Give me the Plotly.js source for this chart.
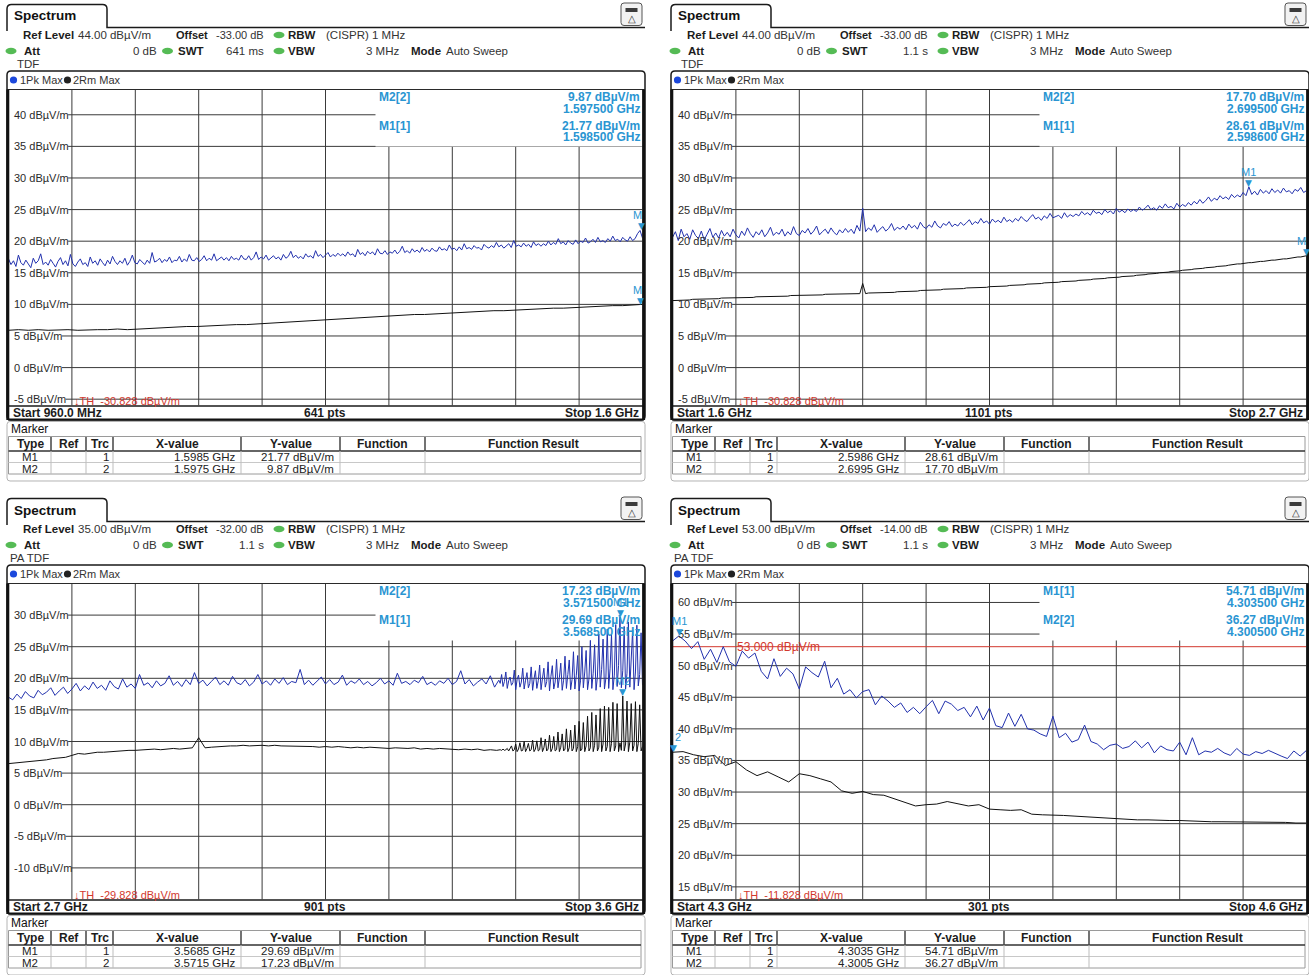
<!DOCTYPE html>
<html><head><meta charset="utf-8">
<script src="https://cdn.plot.ly/plotly-3.0.1.min.js"></script>
<style>html,body{margin:0;padding:0;background:#fff;}#chart{width:1309px;height:975px;}</style>
</head><body><div id="chart"></div>
<script>
// ---------------- DATA (GHz / dBµV/m) ----------------
const ticks12 = [40,35,30,25,20,15,10,5,0,-5];
const ticks3  = [30,25,20,15,10,5,0,-5,-10];
const ticks4  = [60,55,50,45,40,35,30,25,20,15];

// Panel 1: 960 MHz - 1.6 GHz
const p1BlueStart = 0.96, p1BlueStep = 0.0025;
const p1Blue = [17.2,16.3,16.9,16.0,17.8,16.6,16.2,17.0,16.4,15.8,17.3,16.5,16.9,18.0,16.3,16.7,
 16.2,17.1,16.5,15.9,16.8,17.4,16.3,16.9,16.1,17.9,16.4,16.0,16.7,17.2,16.3,16.6,16.0,17.5,16.5,16.9,
 16.2,17.2,16.6,16.1,17.0,16.4,17.6,16.8,16.3,16.9,16.5,17.3,16.2,16.8,17.8,16.6,16.4,17.1,16.7,16.3,
 17.0,16.5,18.2,16.7,16.9,17.3,16.6,17.1,16.8,17.5,16.6,17.0,16.9,17.6,16.7,17.2,16.8,17.9,17.0,16.9,
 17.4,16.8,17.1,17.7,16.9,17.3,17.0,18.0,16.9,17.2,17.5,17.0,17.4,16.9,17.6,17.1,17.3,17.0,17.8,17.2,
 17.1,17.7,17.0,17.4,18.3,17.1,17.5,17.2,17.8,17.0,17.4,17.7,17.2,17.5,17.0,17.9,17.3,17.6,18.4,17.4,
 17.8,17.3,17.6,17.2,18.0,17.5,17.7,17.3,18.5,17.6,17.9,17.4,17.8,18.2,17.5,17.9,17.6,18.1,17.7,18.0,
 17.6,18.3,17.8,18.0,17.5,18.7,17.9,18.2,17.7,18.4,18.0,18.3,17.8,18.8,18.1,18.0,18.5,17.9,18.3,18.1,
 18.6,18.0,18.4,19.2,18.2,18.5,18.1,18.8,18.3,18.6,18.2,19.0,18.4,18.7,18.3,18.9,18.5,18.4,19.1,18.6,
 18.8,18.5,19.4,18.7,18.9,18.5,19.1,18.6,19.6,18.8,19.0,18.7,19.3,18.9,19.0,18.6,19.5,19.1,18.9,19.3,
 19.0,19.8,19.1,19.4,18.9,19.3,19.6,19.0,20.1,19.2,19.4,19.1,19.7,19.2,19.5,19.0,19.9,19.3,19.6,19.2,
 19.6,19.3,20.0,19.4,19.8,19.5,20.4,19.6,19.9,19.4,20.1,19.7,19.5,20.2,19.6,20.0,19.8,20.5,19.7,19.9,
 20.3,19.8,20.6,19.9,20.1,19.8,20.4,20.0,20.8,20.1,20.3,19.9,20.6,20.2,20.0,20.7,20.1,20.4,21.2,21.7,
 20.5];
const p1BlackStart = 0.96, p1BlackStep = 0.01;
const p1Black = [5.9,6.0,5.9,6.0,5.9,6.0,6.0,5.9,6.0,6.0,
 6.0,6.1,6.0,6.1,6.1,6.2,6.3,6.4,6.5,6.5,
 6.6,6.6,6.7,6.8,6.8,6.9,7.0,7.0,7.1,7.2,
 7.3,7.4,7.5,7.6,7.7,7.8,7.9,8.0,8.1,8.2,
 8.3,8.4,8.4,8.5,8.6,8.7,8.8,8.8,8.9,9.0,
 9.0,9.1,9.2,9.2,9.3,9.4,9.4,9.5,9.6,9.6,
 9.7,9.8,9.8,9.9,10.0];

// Panel 2: 1.6 - 2.7 GHz
const p2BlueStart = 1.6, p2BlueStep = 0.005;
const p2Blue = [20.6,21.5,20.1,21.9,20.7,21.2,20.3,21.8,20.9,20.4,21.6,20.2,21.1,22.0,20.6,21.3,20.5,21.7,20.8,21.4,
 20.7,21.9,21.0,20.5,21.6,20.9,22.1,21.2,20.6,21.5,21.0,21.8,20.7,21.3,22.2,20.9,21.4,21.1,21.9,20.8,
 21.5,21.0,22.3,21.2,20.9,21.7,21.3,22.0,21.1,21.6,22.4,21.0,21.5,21.9,21.2,22.1,21.4,21.0,21.8,21.3,
 22.0,21.4,21.9,21.2,22.5,21.6,25.2,21.5,22.1,21.7,22.6,21.4,21.9,22.3,21.6,22.0,22.8,21.7,22.2,21.9,
 22.4,21.8,22.7,22.1,22.5,21.9,23.0,22.3,22.0,22.6,22.2,23.2,22.4,22.1,22.8,22.5,23.1,22.3,22.7,22.4,
 23.0,22.5,22.9,23.4,22.6,23.1,22.8,23.6,22.9,23.2,22.7,23.5,23.0,23.3,22.9,23.8,23.1,23.4,23.0,23.6,
 23.2,23.9,23.4,23.1,23.7,24.2,23.5,23.8,23.3,24.0,23.6,24.4,23.7,23.9,24.1,23.6,24.5,23.8,24.2,23.9,
 24.3,24.0,24.7,24.2,24.5,24.1,24.9,24.4,24.6,24.2,25.0,24.5,24.8,24.3,25.2,24.6,24.9,24.5,25.1,24.7,
 25.0,24.7,25.4,24.9,25.2,25.7,25.0,25.3,24.9,25.6,25.2,25.9,25.3,25.5,25.1,26.0,25.4,25.8,25.5,26.1,
 25.7,26.3,25.9,26.6,26.0,26.4,27.0,26.3,26.8,26.5,27.2,26.7,27.0,26.6,27.4,26.9,27.3,27.0,27.7,27.2,
 28.6,27.4,27.9,27.3,28.2,27.6,28.0,27.5,28.3,27.7,28.1,27.6,28.4,27.8,28.0,27.5,28.2,27.9,28.5,27.7,28.0];
const p2BlackStart = 1.6, p2BlackStep = 0.005;
const p2Black = [10.6,10.6,10.6,10.7,10.7,10.7,10.7,10.8,10.8,10.8,10.8,10.8,10.9,10.9,10.9,10.9,10.9,11.0,11.0,11.0,
 11.0,11.0,11.0,11.1,11.1,11.1,11.1,11.1,11.1,11.2,11.2,11.2,11.2,11.2,11.2,11.3,11.3,11.3,11.3,11.3,
 11.3,11.4,11.4,11.4,11.4,11.4,11.4,11.5,11.5,11.5,11.5,11.5,11.5,11.6,11.6,11.6,11.6,11.6,11.6,11.7,
 11.7,11.7,11.7,11.7,11.7,11.7,13.3,11.7,11.8,11.8,11.8,11.8,11.8,11.9,11.9,11.9,11.9,11.9,12.0,12.0,
 12.0,12.0,12.1,12.1,12.1,12.1,12.2,12.2,12.2,12.2,12.3,12.3,12.3,12.3,12.4,12.4,12.4,12.4,12.5,12.5,
 12.5,12.5,12.6,12.6,12.6,12.6,12.7,12.7,12.7,12.7,12.8,12.8,12.8,12.8,12.9,12.9,12.9,13.0,13.0,13.0,
 13.1,13.1,13.1,13.2,13.2,13.2,13.3,13.3,13.3,13.4,13.4,13.4,13.5,13.5,13.5,13.6,13.6,13.6,13.7,13.7,
 13.7,13.8,13.8,13.8,13.9,13.9,14.0,14.0,14.0,14.1,14.1,14.2,14.2,14.2,14.3,14.3,14.4,14.4,14.4,14.5,
 14.5,14.6,14.6,14.7,14.7,14.8,14.8,14.9,14.9,15.0,15.0,15.1,15.1,15.2,15.2,15.3,15.3,15.4,15.4,15.5,
 15.5,15.6,15.6,15.7,15.7,15.8,15.8,15.9,15.9,16.0,16.0,16.1,16.1,16.2,16.3,16.3,16.4,16.4,16.5,16.5,
 16.6,16.6,16.7,16.7,16.8,16.8,16.9,16.9,17.0,17.0,17.1,17.1,17.2,17.2,17.3,17.3,17.4,17.5,17.5,17.6,17.7];

// Panel 3: 2.7 - 3.6 GHz
const p3BlueAStart = 2.7, p3BlueAStep = 0.006;
const p3BlueA = [17.0,16.6,17.5,16.8,17.9,17.2,16.9,18.1,17.4,17.8,18.5,17.3,18.0,18.6,17.6,18.3,19.2,
 18.0,18.8,18.2,19.4,18.4,18.9,18.1,19.6,18.7,18.3,19.9,18.6,19.1,18.4,20.6,18.9,19.3,
 18.5,19.6,18.8,19.2,20.4,18.9,19.5,18.7,19.8,19.0,20.9,19.2,19.7,18.8,19.5,20.2,19.0,
 19.6,18.9,20.3,19.3,19.0,19.8,18.8,19.4,20.6,19.1,19.6,18.9,19.9,19.2,20.1,19.0,19.5,
 19.3,21.4,19.0,19.7,18.9,19.5,20.2,19.1,19.8,19.0,19.4,20.5,18.9,19.6,19.2,19.9,19.0,
 19.5,18.8,19.3,20.0,19.1,19.6,18.9,20.8,19.2,19.5,19.0,19.7,19.3,20.3,19.0,19.4,18.9,
 19.6,19.2,20.0,19.0,19.5,21.2,19.1,19.8,18.8,19.4,19.9,19.1,20.4,18.6,19.7];
const p3BlueBStart = 3.398, p3BlueBStep = 0.002;
const p3BlueB = [19.2,20.6,18.7,19.5,21.0,18.4,19.6,20.2,18.9,19.3,21.3,18.2,19.8,20.5,18.6,19.4,21.6,18.3,19.7,20.9,18.5,19.2,21.8,18.1,19.9,21.2,
 18.4,19.6,22.1,18.2,20.0,21.6,18.6,19.5,22.6,18.0,20.3,22.0,18.3,19.4,23.0,18.5,20.1,22.4,18.1,19.7,23.5,18.4,20.6,22.9,18.2,
 19.8,24.2,18.3,20.4,23.6,18.0,19.6,25.0,18.5,21.0,24.4,18.2,19.9,26.0,18.4,20.8,25.3,18.1,20.2,27.0,18.6,21.4,26.2,18.3,20.0,
 27.8,18.4,21.6,27.0,18.2,20.5,28.5,18.7,22.0,29.69,18.5,21.2,28.2,18.3,20.8,28.9,18.6,22.4,27.6,18.2,21.0,28.4,18.8,20.6,27.2,18.9];
const p3BlackAStart = 2.7, p3BlackAStep = 0.009;
const p3BlackA = [6.5,6.6,6.7,6.7,6.9,7.0,7.1,7.3,7.4,7.5,
 7.8,8.1,8.0,8.2,8.3,8.3,8.4,8.5,8.5,8.6,
 8.6,8.7,8.7,8.8,8.7,8.8,8.9,8.8,8.9,9.0,
 10.6,
 9.0,9.1,9.2,9.2,9.3,9.3,9.4,9.3,9.4,
 9.4,9.3,9.4,9.3,9.3,9.2,9.3,9.2,9.2,9.1,
 9.2,9.1,9.2,9.1,9.0,9.1,9.0,9.1,9.0,9.0,
 8.9,9.0,8.9,8.9,9.0,8.8,8.9,8.8,8.9,8.8,
 8.8,8.7,8.8,8.7,8.8,8.6,8.7,8.6];
const p3BlackBStart = 3.398, p3BlackBStep = 0.002;
const p3BlackB = [8.7,8.6,8.8,8.6,8.7,8.9,8.5,8.8,9.3,8.5,8.7,9.6,8.4,8.8,9.8,8.5,8.6,10.0,8.4,8.9,9.7,8.5,8.7,10.2,8.4,8.8,
 10.1,8.5,8.7,10.6,8.4,9.0,10.4,8.5,8.8,11.0,8.4,8.9,10.8,8.5,8.7,11.5,8.4,9.1,11.2,8.5,8.8,12.0,8.4,9.0,11.8,
 8.5,8.9,12.6,8.4,9.2,13.2,8.5,8.8,13.0,8.4,9.3,14.0,8.5,9.0,14.6,8.4,9.4,14.2,8.5,9.1,15.2,8.4,9.6,15.6,8.5,
 9.2,15.4,8.4,9.7,16.2,8.5,9.3,16.0,8.4,9.8,8.6,17.2,8.5,9.6,16.4,8.4,9.9,16.0,8.5,9.4,16.3,8.4,9.7,15.8,8.5,9.2];

// Panel 4: 4.3 - 4.6 GHz
const p4BlueStart = 4.3, p4BlueStep = 0.003;
const p4Blue = [53.9,54.7,53.9,52.7,53.8,51.0,52.6,50.5,53.0,50.6,
 49.9,52.3,51.2,52.0,49.1,47.9,51.1,48.3,49.6,48.7,
 46.3,49.8,48.9,48.2,50.7,46.5,48.0,45.5,46.2,44.9,
 45.9,46.2,43.8,45.2,44.4,43.4,44.1,42.6,43.4,42.4,
 43.5,44.5,42.4,44.4,43.9,42.9,43.4,41.9,43.6,41.4,
 43.3,40.5,40.2,42.5,40.4,42.3,40.0,39.8,39.2,38.8,
 42.0,38.6,39.3,37.9,38.3,40.6,38.0,37.6,36.7,37.4,
 37.6,36.9,37.2,38.1,37.0,37.9,36.2,37.3,36.7,36.5,
 37.9,35.9,38.6,35.9,36.5,36.3,36.9,36.2,35.8,36.9,
 36.0,35.8,36.4,36.1,36.6,36.1,35.7,35.3,36.5,35.7,
 36.6];
const p4BlackStart = 4.3, p4BlackStep = 0.005;
const p4Black = [36.3,36.4,35.9,35.6,35.8,34.2,34.8,33.5,32.6,33.2,
 32.4,31.6,32.9,32.6,32.1,31.6,30.2,29.8,30.1,29.6,
 29.5,28.9,28.4,27.8,28.0,28.1,28.5,28.1,27.8,28.0,
 27.3,27.2,27.1,27.2,26.5,26.4,26.4,26.3,26.2,26.1,
 25.9,25.8,25.7,25.7,25.6,25.6,25.5,25.5,25.5,25.4,
 25.4,25.3,25.3,25.3,25.2,25.2,25.2,25.2,25.2,25.1,
 25.1];

// marker readouts
const p1Markers = [['M1','1',1.5985,21.77],['M2','2',1.5975,9.87]];
const p2Markers = [['M1','1',2.5986,28.61],['M2','2',2.6995,17.70]];
const p3Markers = [['M1','1',3.5685,29.69],['M2','2',3.5715,17.23]];
const p4Markers = [['M1','1',4.3035,54.71],['M2','2',4.3005,36.27]];

// ---------------- helpers ----------------
function sweep(start, step, vals){ return vals.map((v,i)=>+(start+i*step).toFixed(5)); }

const W=1309, H=975;
const F='"Liberation Sans", Arial, sans-serif';
const BLUE='#2231ad', MK='#2a95d2', RED='#d2382e', GREEN='#55bb55';
const shapes=[], annotations=[], traces=[];
const layout={width:W,height:H,margin:{l:0,r:0,t:0,b:0},paper_bgcolor:'#ffffff',plot_bgcolor:'rgba(0,0,0,0)',showlegend:false};

const ctx=document.createElement('canvas').getContext('2d');
function tw(text,size,bold){ ctx.font=(bold?'bold ':'')+size+'px "Liberation Sans"'; return ctx.measureText(text).width; }

function A(x,y,text,o){ o=o||{}; annotations.push({xref:'paper',yref:'paper',x:x/W,y:1-y/H,text:text,showarrow:false,
  xanchor:o.a||'left',yanchor:'middle',borderpad:0,font:{family:F,size:o.s||12,color:o.c||'#1c1c1c'}}); }
function Lp(x0,y0,x1,y1,c,w,layer){ shapes.push({type:'line',xref:'paper',yref:'paper',x0:x0/W,y0:1-y0/H,x1:x1/W,y1:1-y1/H,
  line:{color:c,width:w},layer:layer||'above'}); }
function Ep(cx,cy,rx,ry,fill){ shapes.push({type:'circle',xref:'paper',yref:'paper',x0:(cx-rx)/W,x1:(cx+rx)/W,y0:1-(cy+ry)/H,y1:1-(cy-ry)/H,
  fillcolor:fill,line:{width:0},layer:'above'}); }
function path(segs){ return segs.map(s=>{let o=s[0]; for(let i=1;i<s.length;i+=2){ o+=' '+(s[i]/W).toFixed(6)+','+(1-s[i+1]/H).toFixed(6);} return o;}).join(' '); }
function Pp(segs,c,w,fill){ shapes.push({type:'path',xref:'paper',yref:'paper',path:path(segs),line:{color:c,width:w},fillcolor:fill||'rgba(0,0,0,0)',layer:'above'}); }
function rr(x0,y0,x1,y1,r){ return [['M',x0,y0+r],['Q',x0,y0,x0+r,y0],['L',x1-r,y0],['Q',x1,y0,x1,y0+r],['L',x1,y1-r],['Q',x1,y1,x1-r,y1],['L',x0+r,y1],['Q',x0,y1,x0,y1-r],['Z']]; }

const panels=[
 {ox:0,oy:0,start:0.96,stop:1.6,top:44,bottom:-6,ticks:ticks12,ref:'44.00 dBµV/m',off:'-33.00 dB',swt:'641 ms',tdf:'TDF',tdfx:16,
  startL:'Start 960.0 MHz',pts:'641 pts',stopL:'Stop 1.6 GHz',th:'-30.828 dBµV/m',markers:p1Markers,
  box:[['M2[2]','9.87 dBµV/m'],['','1.597500 GHz'],['M1[1]','21.77 dBµV/m'],['','1.598500 GHz']],
  blue:[[p1BlueStart,p1BlueStep,p1Blue]],black:[[p1BlackStart,p1BlackStep,p1Black]],limit:null},
 {ox:664,oy:0,start:1.6,stop:2.7,top:44,bottom:-6,ticks:ticks12,ref:'44.00 dBµV/m',off:'-33.00 dB',swt:'1.1 s',tdf:'TDF',tdfx:16,
  startL:'Start 1.6 GHz',pts:'1101 pts',stopL:'Stop 2.7 GHz',th:'-30.828 dBµV/m',markers:p2Markers,
  box:[['M2[2]','17.70 dBµV/m'],['','2.699500 GHz'],['M1[1]','28.61 dBµV/m'],['','2.598600 GHz']],
  blue:[[p2BlueStart,p2BlueStep,p2Blue]],black:[[p2BlackStart,p2BlackStep,p2Black]],limit:null},
 {ox:0,oy:494,start:2.7,stop:3.6,top:35,bottom:-15,ticks:ticks3,ref:'35.00 dBµV/m',off:'-32.00 dB',swt:'1.1 s',tdf:'PA TDF',tdfx:9,
  startL:'Start 2.7 GHz',pts:'901 pts',stopL:'Stop 3.6 GHz',th:'-29.828 dBµV/m',markers:p3Markers,
  box:[['M2[2]','17.23 dBµV/m'],['','3.571500 GHz'],['M1[1]','29.69 dBµV/m'],['','3.568500 GHz']],
  blue:[[p3BlueAStart,p3BlueAStep,p3BlueA],[p3BlueBStart,p3BlueBStep,p3BlueB]],
  black:[[p3BlackAStart,p3BlackAStep,p3BlackA],[p3BlackBStart,p3BlackBStep,p3BlackB]],limit:null},
 {ox:664,oy:494,start:4.3,stop:4.6,top:63,bottom:13,ticks:ticks4,ref:'53.00 dBµV/m',off:'-14.00 dB',swt:'1.1 s',tdf:'PA TDF',tdfx:9,
  startL:'Start 4.3 GHz',pts:'301 pts',stopL:'Stop 4.6 GHz',th:'-11.828 dBµV/m',markers:p4Markers,
  box:[['M1[1]','54.71 dBµV/m'],['','4.303500 GHz'],['M2[2]','36.27 dBµV/m'],['','4.300500 GHz']],
  blue:[[p4BlueStart,p4BlueStep,p4Blue]],black:[[p4BlackStart,p4BlackStep,p4Black]],limit:53}
];

panels.forEach((p,idx)=>{
  const n=idx+1, s=(n===1?'':String(n));
  const ox=p.ox, oy=p.oy;
  const L=8.5+ox, R=642.5+ox, T=89.5+oy, B=405.5+oy;
  const span=p.stop-p.start, vspan=p.top-p.bottom;
  layout['xaxis'+s]={domain:[L/W,R/W],range:[p.start,p.stop],visible:false,fixedrange:true,anchor:'y'+s};
  layout['yaxis'+s]={domain:[1-B/H,1-T/H],range:[p.bottom,p.top],visible:false,fixedrange:true,anchor:'x'+s};
  const xr='x'+s, yr='y'+s;
  const GC='#3a3a3a';
  for(let k=1;k<10;k++){ const x=p.start+k*span/10;
    shapes.push({type:'line',xref:xr,yref:yr,x0:x,x1:x,y0:p.bottom,y1:p.top,line:{color:GC,width:1},layer:'below'}); }
  p.ticks.forEach(v=>{
    const lab=v+' dBµV/m';
    const wpx=tw(lab,11,false)+5;
    shapes.push({type:'line',xref:xr,yref:yr,x0:p.start+wpx/634*span,x1:p.stop,y0:v,y1:v,line:{color:GC,width:1},layer:'below'});
    const ypx=T+(p.top-v)/vspan*(B-T);
    A(L+4,ypx,lab,{s:11,c:'#2a2a2a'});
  });
  shapes.push({type:'rect',xref:xr,yref:yr,x0:p.start+367/634*span,x1:p.stop,y0:p.top-57/316*vspan,y1:p.top,
    fillcolor:'#ffffff',line:{width:0},layer:'below'});
  if(p.limit!==null){
    shapes.push({type:'line',xref:xr,yref:yr,x0:p.start,x1:p.stop,y0:p.limit,y1:p.limit,line:{color:RED,width:1},layer:'below'});
    const ly=T+(p.top-p.limit)/vspan*(B-T);
    A(L+64,ly,p.limit.toFixed(3)+' dBµV/m',{s:12,c:RED});
  }
  function build(segs){ let x=[],y=[]; segs.forEach(g=>{ x=x.concat(sweep(g[0],g[1],g[2])); y=y.concat(g[2]); }); return {x,y}; }
  const bk=build(p.black), bl=build(p.blue);
  traces.push({type:'scatter',mode:'lines',x:bk.x,y:bk.y,xaxis:xr,yaxis:yr,line:{color:'#111111',width:1},hoverinfo:'skip'});
  traces.push({type:'scatter',mode:'lines',x:bl.x,y:bl.y,xaxis:xr,yaxis:yr,line:{color:BLUE,width:1},hoverinfo:'skip'});
  p.markers.forEach(m=>{
    const f=m[2], lv=m[3];
    annotations.push({xref:xr,yref:yr,x:f,y:lv,text:'▼',showarrow:false,xanchor:'center',yanchor:'bottom',borderpad:0,yshift:-2,
      font:{family:'DejaVu Sans',size:9,color:MK}});
    const rel=(f-p.start)/span*634;
    if(rel>620){ annotations.push({xref:'paper',yref:yr,x:R/W,y:lv,text:m[0].slice(0,1),showarrow:false,xanchor:'right',yanchor:'bottom',yshift:8,borderpad:0,font:{family:F,size:11,color:MK}}); }
    else if(rel<3){ annotations.push({xref:'paper',yref:yr,x:(L+1)/W,y:lv,text:m[0].slice(1),showarrow:false,xanchor:'left',yanchor:'bottom',yshift:8,borderpad:0,font:{family:F,size:11,color:MK}}); }
    else { annotations.push({xref:xr,yref:yr,x:f,y:lv,text:m[0],showarrow:false,xanchor:'center',yanchor:'bottom',yshift:8,borderpad:0,font:{family:F,size:11,color:MK}}); }
  });
  const rows=[T+7.5,T+19.5,T+36,T+48];
  p.box.forEach((r,i)=>{
    if(r[0]) A(L+369,rows[i],'<b>'+r[0]+'</b>',{s:12,c:MK});
    A(R-2,rows[i],'<b>'+r[1]+'</b>',{s:12,c:MK,a:'right'});
  });
  A(L+64.5,T+311,'↓TH\u00a0\u00a0'+p.th,{s:11,c:RED});

  // ---------- chrome ----------
  Pp([['M',7+ox,31+oy],['L',7+ox,9+oy],['Q',7+ox,4.5+oy,11.5+ox,4.5+oy],['L',102.5+ox,4.5+oy],['Q',107+ox,4.5+oy,107+ox,9+oy],['L',107+ox,27.5+oy],['L',645+ox,27.5+oy]],'#1a1a1a',1.5);
  A(13+ox,16+oy,'<b>Spectrum</b>',{s:13.5,c:'#111'});
  Pp(rr(621+ox,3+oy,642+ox,25.5+oy,3),'#555',1,'#f2f2f2');
  shapes.push({type:'rect',xref:'paper',yref:'paper',x0:(625.5+ox)/W,x1:(637.5+ox)/W,y0:1-(12+oy)/H,y1:1-(8+oy)/H,fillcolor:'#3b3b3b',line:{width:0},layer:'above'});
  A(631.5+ox,18.5+oy,'△',{s:10,c:'#333',a:'center'});
  const HS=11.5;
  A(22+ox,35+oy,'<b>Ref Level</b>',{s:11.5}); A(77+ox,35+oy,p.ref,{s:HS,c:'#333'});
  A(175+ox,35+oy,'<b>Offset</b>',{s:11}); A(265+ox,35+oy,p.off,{s:11,c:'#333',a:'right'});
  Ep(279+ox,35+oy,5.5,3.2,GREEN);
  A(287+ox,35+oy,'<b>RBW</b>',{s:11.5}); A(325+ox,35+oy,'(CISPR) 1 MHz',{s:HS,c:'#333'});
  Ep(11+ox,51+oy,5.5,3.2,GREEN);
  A(23+ox,51+oy,'<b>Att</b>',{s:11.5}); A(158+ox,51+oy,'0 dB',{s:HS,c:'#333',a:'right'});
  Ep(167.5+ox,51+oy,5.5,3.2,GREEN);
  A(177+ox,51+oy,'<b>SWT</b>',{s:11.5}); A(265+ox,51+oy,p.swt,{s:HS,c:'#333',a:'right'});
  Ep(279+ox,51+oy,5.5,3.2,GREEN);
  A(287+ox,51+oy,'<b>VBW</b>',{s:11.5}); A(400+ox,51+oy,'3 MHz',{s:HS,c:'#333',a:'right'});
  A(410+ox,51+oy,'<b>Mode</b>',{s:11.5}); A(445+ox,51+oy,'Auto Sweep',{s:HS,c:'#333'});
  A(p.tdfx+ox,63.5+oy,p.tdf,{s:11.5,c:'#333'});
  Pp(rr(7+ox,71+oy,645+ox,420+oy,4),'#1a1a1a',1.5);
  Ep(13.5+ox,80+oy,3.6,3.6,'#1c48dc');
  A(18.5+ox,80+oy,'1Pk Max',{s:11,c:'#333'});
  Ep(67.5+ox,80+oy,3.6,3.6,'#222');
  A(72+ox,80+oy,'2Rm Max',{s:11,c:'#333'});
  Lp(7+ox,T,645+ox,T,'#2a2a2a',1);
  Lp(7+ox,B+0.5,645+ox,B+0.5,'#1a1a1a',1.5);
  Lp(7.8+ox,T,7.8+ox,420+oy,'#111',3);
  Lp(643.6+ox,T,643.6+ox,420+oy,'#111',3);
  Lp(8+ox,419.5+oy,644+ox,419.5+oy,'#111',2);
  A(12+ox,413+oy,'<b>'+p.startL+'</b>',{s:12});
  A(325+ox,413+oy,'<b>'+p.pts+'</b>',{s:12,a:'center'});
  A(640+ox,413+oy,'<b>'+p.stopL+'</b>',{s:12,a:'right'});
  Pp(rr(7+ox,421.5+oy,645+ox,481+oy,3),'#b4b4b4',1);
  A(10+ox,429+oy,'Marker',{s:12,c:'#111'});
  shapes.push({type:'rect',xref:'paper',yref:'paper',x0:(8.5+ox)/W,x1:(641+ox)/W,y0:1-(474+oy)/H,y1:1-(436.5+oy)/H,line:{color:'#9a9a9a',width:1},fillcolor:'rgba(0,0,0,0)',layer:'above'});
  Lp(8.5+ox,451+oy,641+ox,451+oy,'#333',1.5);
  Lp(8.5+ox,462.5+oy,641+ox,462.5+oy,'#c8c8c8',1);
  [51,86,113,241,340,425].forEach(cx=>{ Lp(cx+ox,437+oy,cx+ox,451+oy,'#444',1.5); Lp(cx+ox,451+oy,cx+ox,474+oy,'#bdbdbd',1); });
  const hdr=[['Type',30],['Ref',68.5],['Trc',99.5],['X-value',177],['Y-value',290.5],['Function',382.5],['Function Result',533]];
  hdr.forEach(h=>A(h[1]+ox,444+oy,'<b>'+h[0]+'</b>',{s:12,a:'center'}));
  p.markers.forEach((m,i)=>{
    const y=457+oy+i*11.5;
    A(30+ox,y,m[0],{s:11.5,c:'#222',a:'center'});
    A(110+ox,y,m[1],{s:11.5,c:'#222',a:'right'});
    A(237+ox,y,m[2].toFixed(4)+' GHz',{s:11.5,c:'#222',a:'right'});
    A(335+ox,y,m[3].toFixed(2)+' dBµV/m',{s:11.5,c:'#222',a:'right'});
  });
});

layout.shapes=shapes; layout.annotations=annotations;
Plotly.newPlot('chart',traces,layout,{staticPlot:true,displayModeBar:false});
</script></body></html>
